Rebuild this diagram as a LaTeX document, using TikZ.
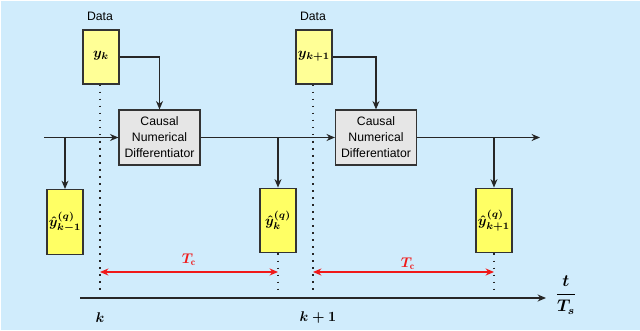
\documentclass[tikz,border=0pt]{standalone}
\usepackage{amsmath}
\usepackage{amssymb}
\usepackage{fontspec}
\usepackage{xcolor}
\usetikzlibrary{arrows.meta}
\newfontfamily\diagsf{Liberation Sans}
\definecolor{bgblue}{RGB}{208,236,252}
\definecolor{datayellow}{RGB}{255,255,150}
\definecolor{estyellow}{RGB}{255,255,100}
\definecolor{cndgray}{RGB}{230,230,230}
\definecolor{tcred}{RGB}{240,25,25}
\tikzset{
  databox/.style={rectangle, draw=black!80, fill=datayellow, line width=0.8pt, minimum width=0.9cm, minimum height=1.35cm, inner sep=0pt, font=\boldmath},
  estbox/.style={rectangle, draw=black!80, fill=estyellow, line width=0.8pt, minimum width=0.9cm, minimum height=1.62cm, inner sep=0pt, font=\boldmath},
  cndbox/.style={rectangle, draw=black!80, fill=cndgray, line width=0.8pt, minimum width=2.025cm, minimum height=1.375cm, inner sep=0pt, align=center, font=\diagsf\fontsize{8.7}{11.3}\selectfont},
  datalabel/.style={font=\diagsf\fontsize{8.7}{11.3}\selectfont},
  flow/.style={-{Stealth[length=6pt, width=5pt]}, draw=black!85, line width=0.8pt},
  marker/.style={draw=black!85, line width=1.2pt, dash pattern=on 1.2pt off 3.8pt},
  period/.style={{Stealth[length=6pt, width=5pt]}-{Stealth[length=6pt, width=5pt]}, draw=tcred, line width=0.8pt},
  timelabel/.style={font=\boldmath}
}

\begin{document}
\begin{tikzpicture}[x=0.025cm, y=-0.025cm]
\useasboundingbox (0,0) rectangle (640,330);
\fill[bgblue] (1,1) rectangle (640,330);

% data samples
\node[datalabel] (data0) at (100,16) {Data};
\node[datalabel] (data1) at (313,16) {Data};
\node[databox] (yk) at (101,57) {\raisebox{4pt}{$y_k$}};
\node[databox] (yk1) at (314,57) {\raisebox{4pt}{$y_{k+1}$}};

% differentiators
\node[cndbox] (cnd1) at (159.5,137.5) {Causal\\Numerical\\Differentiator};
\node[cndbox] (cnd2) at (376,137.5) {Causal\\Numerical\\Differentiator};

% estimates
\node[estbox] (est0) at (65,222) {$\hat{y}^{(q)}_{k-1}$};
\node[estbox] (est1) at (278,220.5) {$\hat{y}^{(q)}_{k}$};
\node[estbox] (est2) at (494,220.5) {$\hat{y}^{(q)}_{k+1}$};

\coordinate (in) at (44,137.5);
\coordinate (b0) at (65,137.5);
\coordinate (b1) at (278,137.5);
\coordinate (b2) at (494,137.5);
\coordinate (out) at (540,137.5);

\draw[flow] (in) -- (cnd1);
\draw[flow] (cnd1) -- (cnd2);
\draw[flow] (cnd2) -- (out);
\draw[flow] (yk) -| (cnd1);
\draw[flow] (yk1) -| (cnd2);
\draw[flow] (b0) -- (est0);
\draw[flow] (b1) -- (est1);
\draw[flow] (b2) -- (est2);

% sampling instants
\coordinate (tick0) at (100,295);
\coordinate (tick1) at (313,295);
\coordinate (tick2) at (278,295);
\coordinate (tick3) at (494,295);
\draw[marker] (yk.south -| tick0) -- (tick0);
\draw[marker] (yk1.south -| tick1) -- (tick1);
\draw[marker] (est1.south) -- (tick2);
\draw[marker] (est2.south) -- (tick3);

% computation time
\coordinate (tc0a) at (100,272);
\coordinate (tc0b) at (278,272);
\coordinate (tc1a) at (313,272);
\coordinate (tc1b) at (494,272);
\draw[period] (tc0a) -- (tc0b);
\draw[period] (tc1a) -- (tc1b);
\node[timelabel, text=tcred] (tc0) at (189,260) {$T_{\mathrm{c}}$};
\node[timelabel, text=tcred] (tc1) at (408,264) {$T_{\mathrm{c}}$};

% time axis
\coordinate (t0) at (80,298);
\coordinate (t1) at (546,298);
\draw[flow] (t0) -- (t1);
\node[timelabel, font=\boldmath\large] (tlab) at (566,295) {$\dfrac{t}{T_s}$};
\node[timelabel] (k0) at (100,318) {$k$};
\node[timelabel] (k1) at (318,318) {$k+1$};
\end{tikzpicture}
\end{document}
